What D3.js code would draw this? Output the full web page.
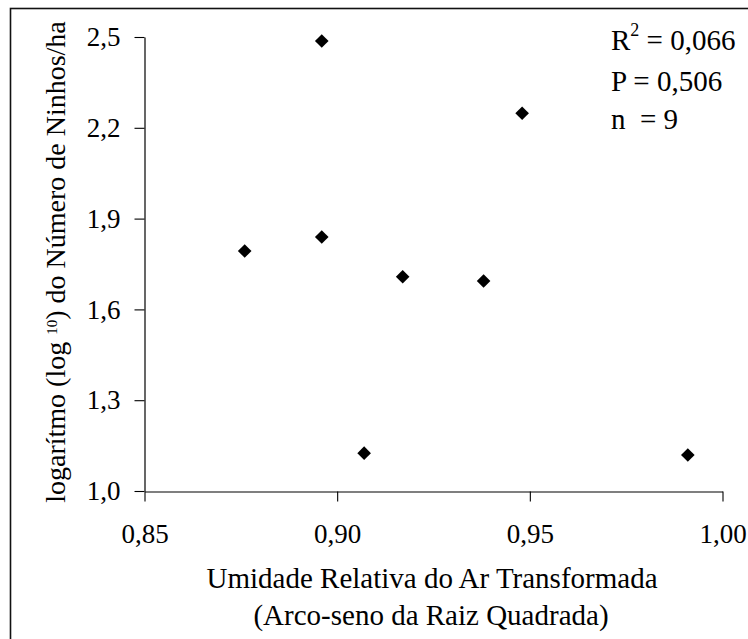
<!DOCTYPE html>
<html>
<head>
<meta charset="utf-8">
<script src="https://cdn.jsdelivr.net/npm/d3@7"></script>
<style>
  html, body { margin: 0; padding: 0; background: #fff; }
  svg { display: block; }
  svg text { font-family: "Liberation Serif", "Times New Roman", serif; fill: #000; }
</style>
</head>
<body>
<svg id="chart" width="748" height="639"></svg>
<script>
// Data
const umidade = [0.876, 0.896, 0.896, 0.948, 0.917, 0.938, 0.907, 0.991];
const logNinhos = [1.793, 2.487, 1.839, 2.248, 1.708, 1.694, 1.125, 1.119];
const xTicks = [0.85, 0.90, 0.95, 1.00];
const yTicks = [1.0, 1.3, 1.6, 1.9, 2.2, 2.5];
const statLabels = ["R", "P = 0,506", "n  = 9"];

(function () {
const svg = d3.select("#chart");
const W = 748, H = 639;
const pLeft = 144.5, pRight = 722.5, pTop = 37, pBottom = 491;
const SERIF = "Liberation Serif";

// outer frame (cropped at right and bottom like the reference)
svg.append("rect")
  .attr("x", 10.5).attr("y", 8.5)
  .attr("width", W + 20).attr("height", H + 20)
  .attr("fill", "none").attr("stroke", "#111").attr("stroke-width", 1.6);

const x = d3.scaleLinear().domain([0.85, 1.00]).range([pLeft, pRight]);
const y = d3.scaleLinear().domain([1.0, 2.5]).range([pBottom, pTop]);

const fmt2 = d => d3.format(".2f")(d).replace(".", ",");
const fmt1 = d => d3.format(".1f")(d).replace(".", ",");

const xAxis = svg.append("g")
  .attr("transform", `translate(0,${pBottom + 0.5})`)
  .call(d3.axisBottom(x).tickValues(xTicks).tickFormat(fmt2).tickSize(10).tickPadding(22).tickSizeOuter(0));
const yAxis = svg.append("g")
  .attr("transform", `translate(${pLeft},0)`)
  .call(d3.axisLeft(y).tickValues(yTicks).tickFormat(fmt1).tickSize(10).tickPadding(14).tickSizeOuter(0));

[xAxis, yAxis].forEach(g => {
  g.attr("font-family", SERIF).attr("font-size", 27);
  g.select(".domain").attr("stroke", "#000").attr("stroke-width", 1.2);
  g.selectAll(".tick line").attr("stroke", "#000").attr("stroke-width", 1.1);
  g.selectAll(".tick text").attr("font-family", SERIF).attr("font-size", 27).attr("fill", "#000");
});

// points
const pts = umidade.map((u, i) => ({ u, v: logNinhos[i] }));
svg.append("g").selectAll("path")
  .data(pts).join("path")
  .attr("transform", d => `translate(${x(d.u)},${y(d.v)})`)
  .attr("d", "M0,-6.8L6.8,0L0,6.8L-6.8,0Z")
  .attr("fill", "#000");

// x axis title
svg.append("text").attr("x", 432).attr("y", 588).attr("font-family", SERIF)
  .attr("text-anchor", "middle").attr("font-size", 29)
  .text("Umidade Relativa do Ar Transformada");
svg.append("text").attr("x", 431).attr("y", 625).attr("font-family", SERIF)
  .attr("text-anchor", "middle").attr("font-size", 29)
  .text("(Arco-seno da Raiz Quadrada)");

// y axis title
const yt = svg.append("text").attr("font-family", SERIF)
  .attr("transform", "translate(65,262) rotate(-90)")
  .attr("text-anchor", "middle").attr("font-size", 28);
yt.append("tspan").text("logarítmo (log ");
yt.append("tspan").attr("dy", -8).attr("font-size", 15).text("10");
yt.append("tspan").attr("dy", 8).text(") do Número de Ninhos/ha");

// statistics annotation
const r2 = svg.append("text").attr("x", 611).attr("y", 50).attr("font-family", SERIF).attr("font-size", 29);
r2.append("tspan").text(statLabels[0]);
r2.append("tspan").attr("dy", -14).attr("font-size", 18).text("2");
r2.append("tspan").attr("dy", 14).text(" = 0,066");
svg.append("text").attr("x", 611).attr("y", 90.5).attr("font-family", SERIF).attr("font-size", 29).text(statLabels[1]);
svg.append("text").attr("x", 611).attr("y", 129).attr("font-family", SERIF).attr("font-size", 29)
  .style("white-space", "pre").text(statLabels[2]);
})();
</script>
</body>
</html>
